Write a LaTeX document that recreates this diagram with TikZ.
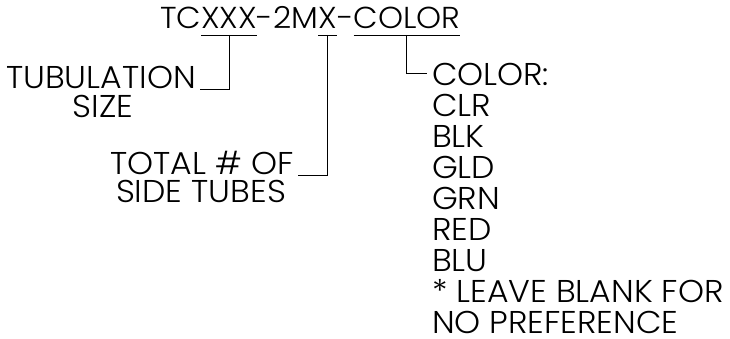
\documentclass[tikz,border=0pt]{standalone}
\usepackage{fontspec}
\setmainfont{Poppins Light}[FakeStretch=1.05]
\begin{document}
\begin{tikzpicture}[x=1pt,y=-1pt,
  lbl/.style={inner sep=0pt,outer sep=0pt,font=\fontsize{31.5}{34}\selectfont,text height=22pt,text depth=0pt},
  part/.style={lbl,anchor=base west,font=\fontsize{30.3}{34}\selectfont},
  conn/.style={line width=0.9pt,black},
  uline/.style={line width=0.9pt,black}]
\useasboundingbox (0,0) rectangle (730,339);
% title
\node[part] (t1) at (160,29) {TC};
\node[part] (t2) at (t1.base east) {XXX};
\node[part] (t3) at (t2.base east) {-2M};
\node[part] (t4) at (t3.base east) {X};
\node[part] (t5) at (t4.base east) {-};
\node[part] (t6) at (t5.base east) {COLOR};
\foreach \n in {t2,t4,t6}
  \draw[uline] ([yshift=-6pt]\n.south west) -- ([yshift=-6pt]\n.south east);
% labels
\node[lbl,anchor=base] (tub) at (101,89) {TUBULATION};
\node[lbl,anchor=base] (size) at (103,118) {SIZE};
\node[lbl,anchor=base] (tot) at (202,175) {TOTAL \# OF};
\node[lbl,anchor=base] (side) at (201,202) {SIDE TUBES};
% colour list
\foreach \t [count=\i from 0] in {COLOR:,CLR,BLK,GLD,GRN,RED,BLU,* LEAVE BLANK FOR,NO PREFERENCE}
  \node[lbl,anchor=base west] (c\i) at (432,86+30.9*\i) {\t};
% connectors
\draw[conn] ([yshift=-6pt]t2.south) |- ([xshift=4pt]tub.base east);
\draw[conn] ([yshift=-6pt]t4.south) |- ([xshift=4pt]tot.base east);
\draw[conn] ([yshift=-6pt]t6.south) |- ([xshift=-5pt,yshift=13pt]c0.base west);
\end{tikzpicture}
\end{document}
